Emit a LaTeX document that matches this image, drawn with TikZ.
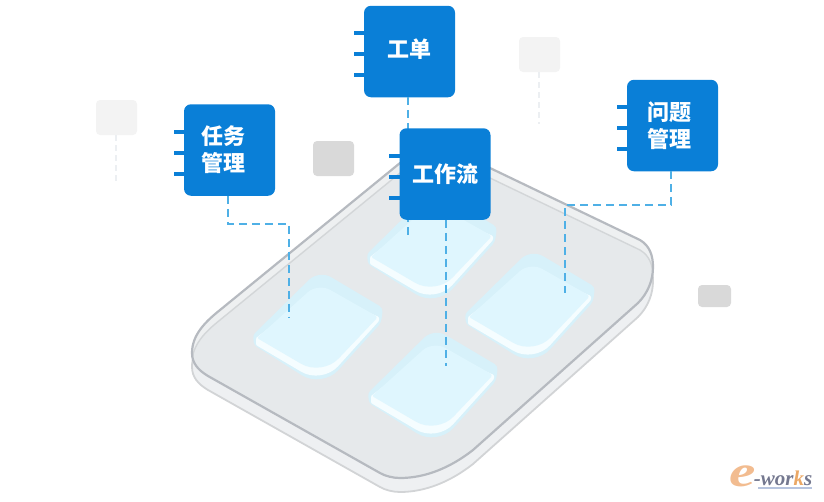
\documentclass[tikz,border=0pt]{standalone}
\usepackage{fontspec}
\setmainfont{Liberation Serif}
\newfontfamily\cjkfont{Noto Sans CJK SC}
\definecolor{boxblue}{HTML}{0A7FD7}
\definecolor{dashblue}{HTML}{4FB0E6}
\definecolor{plateedge}{HTML}{B6BAC0}
\definecolor{platefill}{HTML}{E6E9EB}
\definecolor{plateband}{HTML}{EEF0F1}
\definecolor{plateline}{HTML}{D3D6D8}
\definecolor{shadowfill}{HTML}{EEF0F2}
\definecolor{shadowedge}{HTML}{D2D4D6}
\definecolor{tilehalo}{HTML}{D7F1FA}
\definecolor{tilelip}{HTML}{F5FDFF}
\definecolor{tileface}{HTML}{DFF6FE}
\definecolor{palegrey}{HTML}{F3F3F3}
\definecolor{midgrey}{HTML}{D9D9D9}
\definecolor{palebluegrey}{HTML}{ECEFF2}
\definecolor{logoorange}{HTML}{F2BC90}
\definecolor{logok}{HTML}{EBA865}
\definecolor{logotext}{HTML}{74788F}
\definecolor{logoline}{HTML}{B7C4DE}
\newcommand\platepath{(192,353) .. controls (192,335) and (205,322) .. (220,310) -- (400,163) .. controls (425,143) and (445,145) .. (490,168) -- (640,240) .. controls (650,246) and (653,256) .. (653,267) .. controls (653,280) and (648,293) .. (638,303) -- (473,450) .. controls (450,468) and (425,478) .. (400,478) .. controls (393,478) and (385,476) .. (380,473) -- (208,376) .. controls (198,370) and (192,363) .. (192,353) -- cycle}
\newcommand\glasstile[2]{%
  \begin{scope}[shift={(#1,#2)}]
    \fill[tilehalo] [rounded corners=3pt] (253,335) [rounded corners=14pt] -- (319,270) [rounded corners=4pt] -- (383,308) -- (381,323) [rounded corners=24pt] -- (322,388) [rounded corners=3pt] -- (254,345) -- cycle;
    \fill[tilelip] [rounded corners=1pt] (256,345) -- (256,338) [rounded corners=14pt] -- (318,290) [rounded corners=1pt] -- (379,317) -- (379,321) [rounded corners=24pt] -- (322,384) [rounded corners=1pt] -- cycle;
    \fill[tileface] [rounded corners=2pt] (257,338) [rounded corners=14pt] -- (318,283) [rounded corners=3pt] -- (378,317) [rounded corners=24pt] -- (322,376) [rounded corners=2pt] -- cycle;
  \end{scope}}
\newcommand\boxticks[2]{%
  \foreach \dy in {0,21,42} \fill[boxblue] (#1,#2+\dy-2) rectangle (#1+11,#2+\dy+2);}
\tikzset{
  cardbox/.style={fill=boxblue,rounded corners=7pt,minimum width=91pt,minimum height=91.5pt,inner sep=0pt,text=white,align=center,font=\cjkfont\bfseries\fontsize{22}{27}\selectfont},
  flow/.style={draw=dashblue,line width=1.8pt,dash pattern=on 8pt off 5pt},
  ghost/.style={draw=palebluegrey,line width=1.8pt,dash pattern=on 6pt off 4pt},
  chip/.style={rounded corners=4pt,minimum width=41pt,minimum height=35pt,inner sep=0pt}
}
\begin{document}
\begin{tikzpicture}[x=1pt,y=-1pt]
\useasboundingbox (0,0) rectangle (824,501);
% plate
\begin{scope}[yshift=-14pt]
  \draw[fill=shadowfill,draw=shadowedge,line width=1.8pt] \platepath;
\end{scope}
\fill[plateband] \platepath;
\begin{scope}
  \clip \platepath;
  \begin{scope}[yshift=-10pt]
    \draw[fill=platefill,draw=plateline,line width=1.4pt] \platepath;
  \end{scope}
\end{scope}
\draw[plateedge,line width=2.2pt] \platepath;
% tiles
\glasstile{114}{-81}
\glasstile{0}{0}
\glasstile{212}{-21}
\glasstile{115}{58}
% decorative chips
\node[chip,fill=palegrey] (g1) at (116.5,117.5) {};
\node[chip,fill=palegrey] (g2) at (539.5,54.5) {};
\node[chip,fill=midgrey] (g3) at (333.5,158.5) {};
\node[chip,fill=midgrey,minimum width=33pt,minimum height=22pt] (g4) at (714.5,296) {};
\coordinate (g1end) at (116,185);
\coordinate (g2end) at (539,124);
\draw[ghost] (g1.south -| g1end) -- (g1end);
\draw[ghost] (g2.south -| g2end) -- (g2end);
% cards and connectors
\coordinate (t1) at (289,318);
\coordinate (t1c) at (289,224);
\coordinate (t2) at (446,366);
\coordinate (t3) at (565,293);
\coordinate (t3c) at (565,205);
\coordinate (t4) at (408,236);
\boxticks{353.5}{33}
\node[cardbox] (gd) at (409.5,51.5) {\raisebox{7pt}{工单}};
\draw[flow] (gd.south -| t4) -- (t4);
\boxticks{173.5}{132}
\node[cardbox] (rw) at (229.5,150) {\hspace*{-12pt}任务\\\hspace*{-12pt}管理};
\draw[flow] (rw.south -| 228,0) -- (228,224) -- (t1c) -- (t1);
\boxticks{616.5}{107}
\node[cardbox] (wt) at (672.5,125.5) {\hspace*{-6pt}问题\\\hspace*{-6pt}管理};
\draw[flow] (wt.south -| 671,0) -- (671,205) -- (t3c) -- (t3);
\boxticks{389}{156}
\node[cardbox] (gzl) at (445,174) {\raisebox{2pt}{工作流}};
\draw[flow] (gzl.south -| t2) -- (t2);
% logo
\node[inner sep=0pt,text=logoorange,font=\bfseries\itshape\fontsize{44}{44}\selectfont,xscale=1.35,transform shape] (le) at (743,476) {e};
\node[inner sep=0pt,text=logotext,font=\bfseries\itshape\fontsize{21}{21}\selectfont] (lw) at (783,478) {-wor\textcolor{logok}{k}s};
\fill[logoline] (758,487) rectangle (812,489);
\end{tikzpicture}
\end{document}
